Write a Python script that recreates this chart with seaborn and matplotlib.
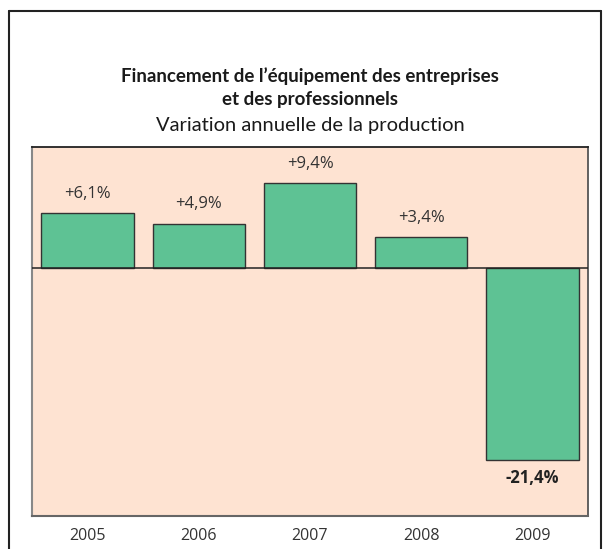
import matplotlib
matplotlib.use("Agg")
import matplotlib.pyplot as plt
from matplotlib.lines import Line2D
import seaborn as sns
import pandas as pd

years = ["2005", "2006", "2007", "2008", "2009"]
values = [6.1, 4.9, 9.4, 3.4, -21.4]
labels = ["+6,1%", "+4,9%", "+9,4%", "+3,4%", "-21,4%"]

title_line1 = "Financement de l\u2019équipement des entreprises"
title_line2 = "et des professionnels"
subtitle = "Variation annuelle de la production"

sns.set_theme(style="white")
plt.rcParams['font.family'] = ['Open Sans', 'DejaVu Sans']

W, H = 608, 549
fig = plt.figure(figsize=(W / 100, H / 100), dpi=100)
ax = fig.add_axes([32 / W, 1 - 516 / H, (588 - 32) / W, (516 - 147) / H])

df = pd.DataFrame({"year": years, "value": values})
green = "#5EC294"
sns.barplot(data=df, x="year", y="value", color=green, saturation=1,
            edgecolor="#333333", linewidth=1.0, width=0.83, ax=ax)

ax.set_facecolor("#FEE3D2")
ax.set_ylim(-27.6, 13.4)
ax.set_xlim(-0.5, 4.5)
ax.axhline(0, color="#222222", lw=1.1, zorder=3)
ax.set_yticks([])
ax.set_xlabel("")
ax.set_ylabel("")
ax.tick_params(axis="x", length=0, pad=9, labelsize=11.5, labelcolor="#333333")

for s, c, w in [("top", "#222222", 1.3), ("left", "#888888", 1.5),
                ("right", "#555555", 1.3), ("bottom", "#666666", 1.5)]:
    ax.spines[s].set_visible(True)
    ax.spines[s].set_color(c)
    ax.spines[s].set_linewidth(w)

for i, (v, lab) in enumerate(zip(values, labels)):
    if v >= 0:
        ax.annotate(lab, (i, v), xytext=(0, 8), textcoords="offset points",
                    ha="center", va="bottom", fontsize=12, color="#333333")
    else:
        ax.annotate(lab, (i, v), xytext=(0, -6), textcoords="offset points",
                    ha="center", va="top", fontsize=12, color="#222222",
                    fontweight="bold")

# titles
cx = 0.5 * (32 + 588) / W
fig.text(cx, 1 - 76 / H, title_line1, ha="center", va="center",
         fontsize=13.5, fontweight="bold", color="#1a1a1a", family=["Lato", "DejaVu Sans"])
fig.text(cx, 1 - 99 / H, title_line2, ha="center", va="center",
         fontsize=13.5, fontweight="bold", color="#1a1a1a", family=["Lato", "DejaVu Sans"])
fig.text(cx, 1 - 125 / H, subtitle, ha="center", va="center",
         fontsize=14.5, color="#1a1a1a", family=["Lato", "DejaVu Sans"])

# outer frame
fc = "#222222"
fig.add_artist(Line2D([8.5 / W, 8.5 / W], [0, 1 - 10.5 / H], transform=fig.transFigure,
                      color=fc, lw=1.5))
fig.add_artist(Line2D([8.5 / W, 600.5 / W], [1 - 10.5 / H, 1 - 10.5 / H], transform=fig.transFigure,
                      color=fc, lw=1.5))
fig.add_artist(Line2D([600.5 / W, 600.5 / W], [0, 1 - 10.5 / H], transform=fig.transFigure,
                      color=fc, lw=1.5))

fig.savefig("out.png", dpi=100)
